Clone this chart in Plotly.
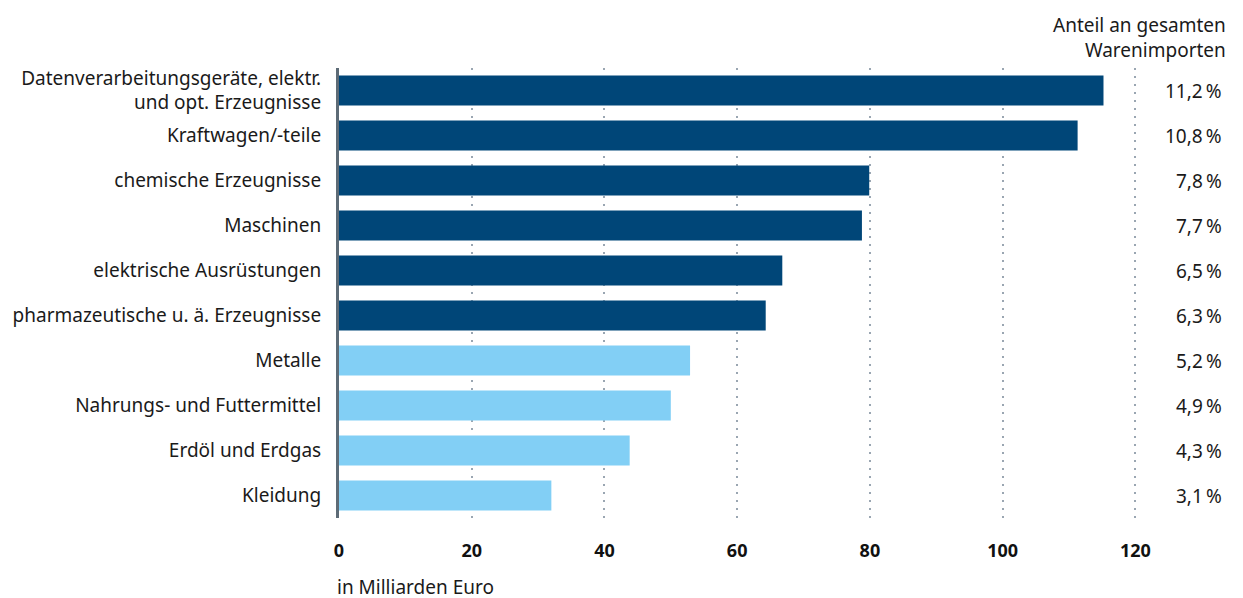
import plotly.graph_objects as go

categories = [
    "Datenverarbeitungsgeräte, elektr.<br>und opt. Erzeugnisse",
    "Kraftwagen/-teile",
    "chemische Erzeugnisse",
    "Maschinen",
    "elektrische Ausrüstungen",
    "pharmazeutische u. ä. Erzeugnisse",
    "Metalle",
    "Nahrungs- und Futtermittel",
    "Erdöl und Erdgas",
    "Kleidung",
]
values = [115.2, 111.3, 79.9, 78.8, 66.8, 64.3, 52.9, 50.0, 43.8, 32.0]
shares = ["11,2", "10,8", "7,8", "7,7", "6,5", "6,3", "5,2", "4,9", "4,3", "3,1"]
highlight = [True, True, True, True, True, True, False, False, False, False]

DARK = "#004678"
LIGHT = "#82CFF5"
FONT = "Noto Sans"
TXT = "#1a1a1a"

# screen positions (page has an 8px body margin)
OFF = 8
W, H = 1243, 598
plot_left, plot_right, plot_top, plot_bottom = 339 - OFF, 1138 - OFF, 68 - OFF, 518 - OFF

def xpaper(screen_x):
    return (screen_x - OFF - plot_left) / (plot_right - plot_left)

fig = go.Figure()
fig.add_trace(go.Bar(
    y=categories, x=values, orientation="h",
    marker=dict(color=[DARK if h else LIGHT for h in highlight], line=dict(width=0)),
    hoverinfo="x+y",
))

for c, s in zip(categories, shares):
    fig.add_annotation(x=xpaper(1224), xref="paper", y=c, yref="y",
                       text=s + "\u202f%", showarrow=False, xanchor="right",
                       font=dict(size=19, color=TXT, family=FONT))

fig.add_annotation(x=xpaper(1228), xref="paper",
                   y=1, yref="paper", yshift=58, yanchor="top",
                   text="Anteil an gesamten<br>Warenimporten", showarrow=False,
                   xanchor="right", align="right",
                   font=dict(size=19, color=TXT, family=FONT))
fig.add_annotation(x=xpaper(335), xref="paper", y=0, yref="paper", yshift=-69,
                   yanchor="middle",
                   text="in Milliarden Euro", showarrow=False, xanchor="left",
                   font=dict(size=19, color=TXT, family=FONT))

fig.update_layout(
    width=W, height=H,
    margin=dict(l=plot_left, r=W - plot_right, t=plot_top, b=H - plot_bottom),
    paper_bgcolor="white", plot_bgcolor="white",
    bargap=0.333,
    showlegend=False,
    font=dict(family=FONT, size=19, color=TXT),
    xaxis=dict(
        range=[0, 120.4], tickvals=[0, 20, 40, 60, 80, 100, 120],
        ticktext=["<b>0</b>", "<b>20</b>", "<b>40</b>", "<b>60</b>", "<b>80</b>", "<b>100</b>", "<b>120</b>"],
        showgrid=True, gridcolor="#9aa6b2", gridwidth=1.5, griddash="2px,6px",
        zeroline=False, showline=False, ticks="", ticklabelstandoff=20,
        tickfont=dict(size=18, color="#111111", family=FONT), automargin=False,
    ),
    yaxis=dict(
        autorange="reversed", showgrid=False, zeroline=False,
        showline=True, linecolor="#5d6b76", linewidth=3,
        ticks="", ticklabelstandoff=11, automargin=False,
        tickfont=dict(size=19, color=TXT, family=FONT),
    ),
)

fig.write_html("out.html")
